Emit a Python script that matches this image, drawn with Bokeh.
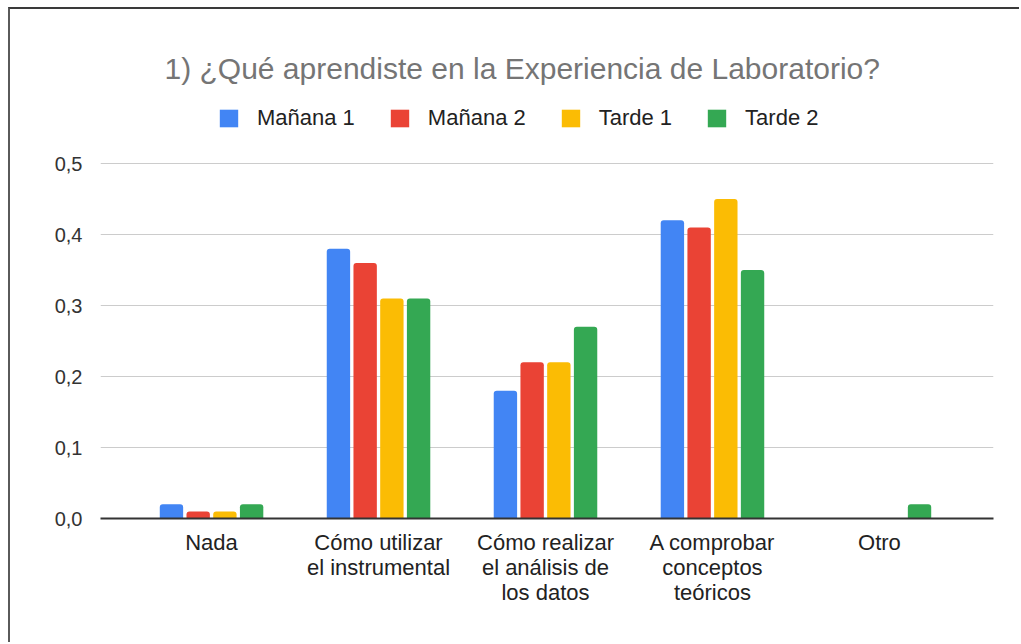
from bokeh.plotting import figure
from bokeh.models import (ColumnDataSource, FixedTicker, CustomJSTickFormatter,
                          Legend, LegendItem, Range1d)
from bokeh.transform import dodge
from bokeh.embed import file_html
from bokeh.resources import INLINE

title_text = "1) ¿Qué aprendiste en la Experiencia de Laboratorio?"
categories = ["Nada", "Cómo utilizar\nel instrumental", "Cómo realizar\nel análisis de\nlos datos",
              "A comprobar\nconceptos\nteóricos", "Otro"]
series_names = ["Mañana 1", "Mañana 2", "Tarde 1", "Tarde 2"]
manana1 = [0.02, 0.38, 0.18, 0.42, 0.0]
manana2 = [0.01, 0.36, 0.22, 0.41, 0.0]
tarde1 = [0.01, 0.31, 0.22, 0.45, 0.0]
tarde2 = [0.02, 0.31, 0.27, 0.35, 0.02]
colors = ["#4285F4", "#EA4335", "#FBBC04", "#34A853"]
y_ticks = [0.0, 0.1, 0.2, 0.3, 0.4, 0.5]

FONT = "Liberation Sans"

x_pos = list(range(len(categories)))
source = ColumnDataSource(dict(x=x_pos, m1=manana1, m2=manana2, t1=tarde1, t2=tarde2))

# frame spans from y=0 up to above the 0,5 gridline so that the legend sits inside it
p = figure(width=1011, height=635, output_backend="svg", toolbar_location=None,
           x_range=Range1d(-0.665, 4.683), y_range=Range1d(0, 0.5958),
           min_border_left=90, min_border_right=28, min_border_top=86, min_border_bottom=126)
p.styles = {"margin": "7px 0 0 8px",
            "border-top": "2px solid #3a3a3a", "border-left": "2px solid #5a5a5a"}

p.outline_line_color = None
p.background_fill_color = "white"
p.border_fill_color = "white"

offsets = [-0.24, -0.08, 0.08, 0.24]
fields = ["m1", "m2", "t1", "t2"]
items = []
for name, fld, off, col in zip(series_names, fields, offsets, colors):
    r = p.vbar(x=dodge("x", off), top=fld, width=0.14, bottom=0, source=source,
               fill_color=col, line_color=None, border_radius=(3, 3, 0, 0))
    items.append(LegendItem(label=name, renderers=[r]))

legend = Legend(items=items, orientation="horizontal", location=(117, 387),
                glyph_width=23, glyph_height=22, label_standoff=17, spacing=33,
                label_text_font=FONT, label_text_font_size="22px", label_text_color="#222222",
                border_line_color=None, background_fill_alpha=0, padding=0, margin=0)
p.add_layout(legend, "center")

p.title.text = title_text
p.title.align = "left"
p.title.offset = 64
p.title.text_font = FONT
p.title.text_font_size = "30px"
p.title.text_font_style = "normal"
p.title.text_color = "#757575"
p.title.standoff = 21

# x axis
p.xaxis.ticker = FixedTicker(ticks=x_pos)
p.xaxis.major_label_overrides = {i: c for i, c in zip(x_pos, categories)}
p.xaxis.major_label_text_font = FONT
p.xaxis.major_label_text_font_size = "22px"
p.xaxis.major_label_text_line_height = 1.0
p.xaxis.major_label_text_color = "#222222"
p.xaxis.major_label_standoff = 5
p.xaxis.major_tick_line_color = None
p.xaxis.minor_tick_line_color = None
p.xaxis.axis_line_color = "#333333"
p.xaxis.axis_line_width = 2
p.xgrid.grid_line_color = None

# y axis
p.yaxis.ticker = FixedTicker(ticks=y_ticks)
p.yaxis.formatter = CustomJSTickFormatter(code="return tick.toFixed(1).replace('.', ',');")
p.yaxis.major_label_text_font = FONT
p.yaxis.major_label_text_font_size = "20px"
p.yaxis.major_label_text_color = "#333333"
p.yaxis.major_label_standoff = 12
p.yaxis.major_tick_line_color = None
p.yaxis.minor_tick_line_color = None
p.yaxis.axis_line_color = None
p.ygrid.grid_line_color = "#cccccc"
p.ygrid.grid_line_width = 1

open("out.html", "w").write(file_html(p, INLINE))
